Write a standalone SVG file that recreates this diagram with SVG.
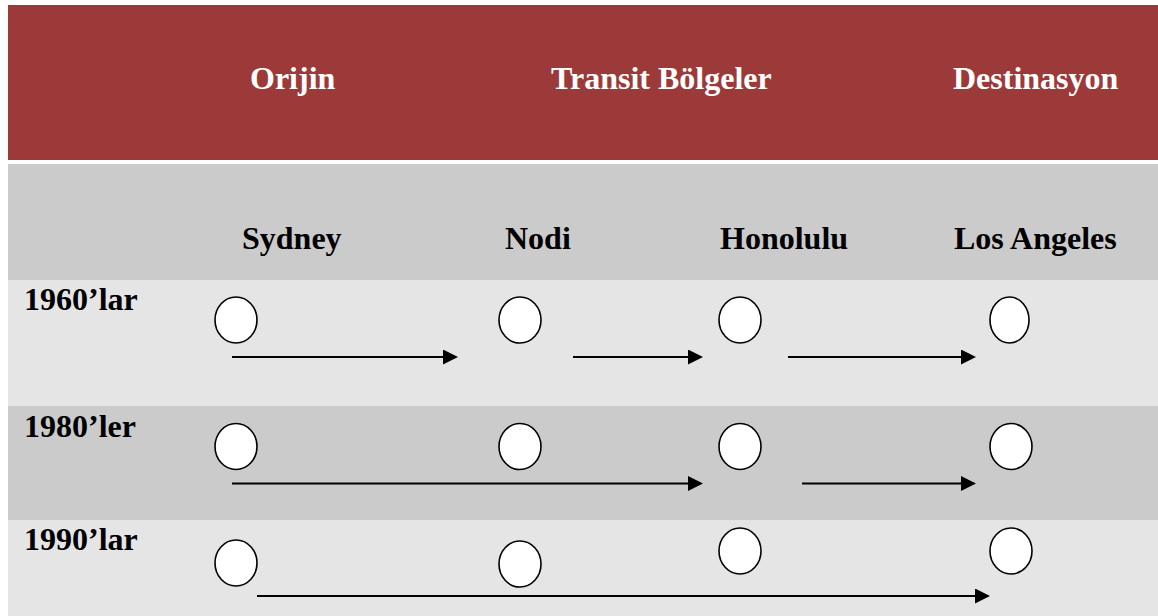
<svg xmlns="http://www.w3.org/2000/svg" width="1158" height="616" viewBox="0 0 1158 616">
<defs>
<style>
.t{font-family:"Liberation Serif","Times New Roman",serif;font-weight:bold;font-size:32px;}
.hw{fill:#ffffff;}
.hb{fill:#000000;}
.node{fill:#ffffff;stroke:#000000;stroke-width:1.6;}
.conn{stroke:#000000;stroke-width:2;fill:none;marker-end:url(#ah);}
</style>
<marker id="ah" markerWidth="15" markerHeight="15" refX="1" refY="7.5" orient="auto" markerUnits="userSpaceOnUse">
<path d="M0,0 L15,7.5 L0,15 z" fill="#000000"/>
</marker>
</defs>
<rect x="0" y="0" width="1158" height="616" fill="#ffffff"/>
<g id="bands">
<rect x="8" y="5" width="1150" height="155" fill="#9C3A39"/>
<rect x="8" y="164" width="1150" height="116" fill="#CBCBCB"/>
<rect x="8" y="280" width="1150" height="126" fill="#E5E5E5"/>
<rect x="8" y="406" width="1150" height="114" fill="#CBCBCB"/>
<rect x="8" y="520" width="1150" height="96" fill="#E5E5E5"/>
</g>
<g id="headers">
<text class="t hw" x="250" y="89">Orijin</text>
<text class="t hw" x="551" y="89">Transit Bölgeler</text>
<text class="t hw" x="953" y="89">Destinasyon</text>
<text class="t hb" x="242" y="249">Sydney</text>
<text class="t hb" x="505" y="249">Nodi</text>
<text class="t hb" x="720" y="249">Honolulu</text>
<text class="t hb" x="954" y="249">Los Angeles</text>
<text class="t hb" x="24" y="310">1960’lar</text>
<text class="t hb" x="24" y="437">1980’ler</text>
<text class="t hb" x="24" y="550">1990’lar</text>
</g>
<g id="row1960">
<ellipse id="n1960-sydney" class="node" cx="236" cy="320" rx="21" ry="23"/>
<ellipse id="n1960-nodi" class="node" cx="520" cy="320" rx="21" ry="23"/>
<ellipse id="n1960-honolulu" class="node" cx="740" cy="320" rx="21" ry="23"/>
<ellipse id="n1960-la" class="node" cx="1009.5" cy="320" rx="19.5" ry="23"/>
</g>
<g id="row1980">
<ellipse id="n1980-sydney" class="node" cx="236" cy="446.5" rx="21" ry="23"/>
<ellipse id="n1980-nodi" class="node" cx="520" cy="446.5" rx="21" ry="23"/>
<ellipse id="n1980-honolulu" class="node" cx="740" cy="446.5" rx="21" ry="23"/>
<ellipse id="n1980-la" class="node" cx="1011" cy="446.5" rx="21" ry="23"/>
</g>
<g id="row1990">
<ellipse id="n1990-sydney" class="node" cx="236" cy="563" rx="21" ry="23"/>
<ellipse id="n1990-nodi" class="node" cx="520" cy="564" rx="21" ry="23"/>
<ellipse id="n1990-honolulu" class="node" cx="740" cy="551" rx="21" ry="23"/>
<ellipse id="n1990-la" class="node" cx="1011" cy="551" rx="21" ry="23"/>
</g>
<g id="connectors">
<line class="conn" x1="232" y1="357" x2="444" y2="357"/>
<line class="conn" x1="573" y1="357" x2="689" y2="357"/>
<line class="conn" x1="788" y1="357" x2="962" y2="357"/>
<line class="conn" x1="232" y1="483.5" x2="689" y2="483.5"/>
<line class="conn" x1="802" y1="483.5" x2="962" y2="483.5"/>
<line class="conn" x1="257" y1="596" x2="976" y2="596"/>
</g>
</svg>
